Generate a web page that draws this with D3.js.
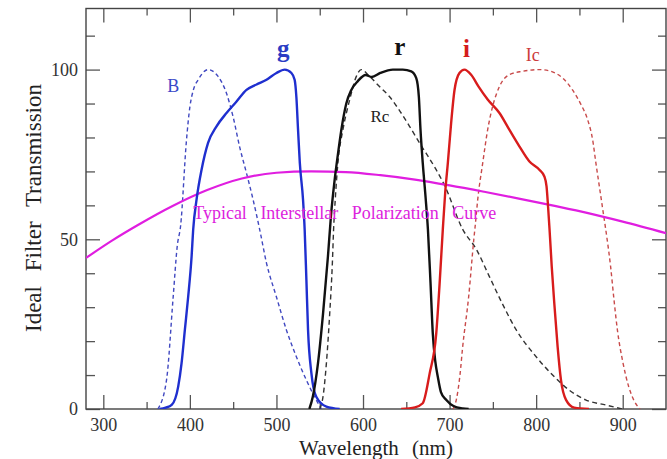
<!DOCTYPE html>
<html>
<head>
<meta charset="utf-8">
<script src="https://cdn.jsdelivr.net/npm/d3@7"></script>
<style>
  body { margin: 0; background: #fff; }
  svg { display: block; font-family: "Liberation Serif", "Times New Roman", serif; }
</style>
</head>
<body>
<svg id="chart" width="667" height="459"></svg>
<script>
// filter curves, [wavelength nm, transmission %]
var bFilter = [[363,0],[373,8.5],[380.7,33],[385.4,48],[389.3,54],[396,79],[400,89],[404,94],[409.6,97],[421,100],[432.6,98],[442.3,93],[450,86],[457.7,77],[465.4,69.5],[473,61.7],[480.7,52.8],[488.5,43],[500,33],[511.5,23.3],[523,15.4],[534.6,8.5],[544,3.6],[552,0]];
var gFilter = [[365,0],[372,0.4],[379,1.2],[386.5,6.6],[390.4,13.5],[394.2,23.3],[398,33],[402,45],[403.8,52.8],[407.7,61.7],[413.5,70.5],[421,78.4],[430.8,83.3],[442.3,87.2],[453.9,90.6],[465.4,94],[477,95.6],[488.5,97],[500,99],[509.6,100],[517.3,99],[521,97],[523,92],[525,82],[527,72.5],[530.7,61.7],[532.6,52.8],[534.6,38],[536.5,23.3],[540.4,10.5],[546,3.6],[557.7,0.7],[573,0]];
var rFilter = [[538,0],[542,3.6],[548,13.5],[553.8,28],[559.5,45],[563,57],[567,67],[571,75],[575,82.3],[580.7,90],[586.5,94],[594,96.6],[603,98.4],[610,97.8],[620,99],[634.5,100],[646,100],[655.7,99.5],[661.5,97.5],[664.5,92],[666.4,82.3],[669,72.5],[672.2,62.6],[675,52.8],[678,37],[680.6,22.3],[683.5,14],[686.4,9.5],[690,5],[696,2.7],[705,0.8],[715,0.2],[722,0]];
var rcFilter = [[550,0],[554,4],[557.7,13.5],[561.5,28],[564.6,43],[566,52.8],[568,62],[571,72.5],[576.8,82.3],[584.5,91],[592.3,98],[598,100],[607.6,98],[619,95],[630.7,92],[642,88],[653.7,83.3],[665.3,78.4],[684.5,70.5],[694,66],[715,53],[731,47],[746,39],[761,31],[777,23.3],[800,15.4],[819,10],[838,5.6],[857,2.7],[880,1.2],[900,0]];
var iFilter = [[644,0],[660,0.5],[669,1.7],[677,10.5],[684.6,22.3],[688.5,37],[692.2,53],[695,64],[698,72.5],[701.8,84.3],[705.7,94],[711.4,99],[717.2,100],[724.9,98.5],[733.5,95],[744,91.2],[757.6,87.2],[769,82.3],[780.6,77.4],[792,73],[803.7,70.5],[809.5,68.5],[812,65.6],[814,58.7],[815.5,52.8],[818,42],[821,31],[824.8,18.4],[828.7,8.5],[834.5,2.7],[844,0.4],[861,0]];
var icFilter = [[704,0],[708,3],[712,10],[715,18],[722,33],[728,50],[730,55],[732.5,61.7],[738.3,72.5],[744,82.3],[749.8,89.2],[757.6,95],[769,98.5],[784.4,99.5],[803.7,100],[817,99.5],[830.6,97.5],[842,94],[851.8,89.7],[859.4,85.3],[865.2,79.4],[869,72.5],[873,65.6],[878,57],[882,50],[886,42],[890,32],[894,23],[900,14],[907,6.5],[913,2.5],[920,0]];
var polCurve = [[280,44.5],[310,49.6],[340,54.2],[380,59.8],[420,64.5],[460,67.9],[500,69.6],[540,70.0],[580,69.8],[620,68.9],[660,67.6],[700,65.9],[740,64.0],[780,62.0],[820,59.9],[860,57.7],[900,55.2],[950,51.8]];

var xMajor = [300, 400, 500, 600, 700, 800, 900];
var xMinor = [350, 450, 550, 650, 750, 850];
var yMajor = [0, 50, 100];
var yMinor = [10, 20, 30, 40, 60, 70, 80, 90, 110];

var margin = {top: 8.5, right: 1, bottom: 50, left: 86};
var fullWidth = 667, fullHeight = 459;
var width = fullWidth - margin.left - margin.right;
var height = 409 - margin.top;

var svg = d3.select("#chart");

var x = d3.scaleLinear().domain([280, 950]).range([margin.left, margin.left + width]);
var y = d3.scaleLinear().domain([0, 118]).range([409, margin.top]);

svg.append("clipPath").attr("id", "plotclip")
  .append("rect")
  .attr("x", margin.left).attr("y", margin.top)
  .attr("width", width).attr("height", height);

// axes: ticks point inward on all four sides
function styleAxis(g) {
  g.attr("font-family", null);
  g.select(".domain").remove();
  g.selectAll(".tick line").attr("stroke", "#555").attr("stroke-width", 1.3);
  g.selectAll(".tick text").attr("fill", "#333").attr("font-size", 18);
}

svg.append("g").attr("transform", "translate(0,409)")
  .call(d3.axisBottom(x).tickValues(xMajor).tickSize(-14).tickPadding(9).tickFormat(d3.format("d")))
  .call(styleAxis);
svg.append("g").attr("transform", "translate(0,409)")
  .call(d3.axisBottom(x).tickValues(xMinor).tickSize(-7).tickFormat(""))
  .call(styleAxis);
svg.append("g").attr("transform", "translate(0," + margin.top + ")")
  .call(d3.axisTop(x).tickValues(xMajor).tickSize(-14).tickFormat(""))
  .call(styleAxis);
svg.append("g").attr("transform", "translate(0," + margin.top + ")")
  .call(d3.axisTop(x).tickValues(xMinor).tickSize(-7).tickFormat(""))
  .call(styleAxis);

svg.append("g").attr("transform", "translate(" + margin.left + ",0)")
  .call(d3.axisLeft(y).tickValues(yMajor).tickSize(-14).tickPadding(8))
  .call(styleAxis);
svg.append("g").attr("transform", "translate(" + margin.left + ",0)")
  .call(d3.axisLeft(y).tickValues(yMinor).tickSize(-9).tickFormat(""))
  .call(styleAxis);
svg.append("g").attr("transform", "translate(" + (margin.left + width) + ",0)")
  .call(d3.axisRight(y).tickValues(yMajor).tickSize(-14).tickFormat(""))
  .call(styleAxis);
svg.append("g").attr("transform", "translate(" + (margin.left + width) + ",0)")
  .call(d3.axisRight(y).tickValues(yMinor).tickSize(-8).tickFormat(""))
  .call(styleAxis);

// frame
svg.append("rect")
  .attr("x", margin.left).attr("y", margin.top)
  .attr("width", width).attr("height", height)
  .attr("fill", "none").attr("stroke", "#444").attr("stroke-width", 1.4);

var line = d3.line()
  .x(function(d) { return x(d[0]); })
  .y(function(d) { return y(d[1]); })
  .curve(d3.curveMonotoneX);

var plot = svg.append("g").attr("clip-path", "url(#plotclip)");

var series = [
  {data: bFilter,  color: "#4048c0", width: 1.4, dash: "4,3"},
  {data: rcFilter, color: "#333333", width: 1.4, dash: "5,3.5"},
  {data: icFilter, color: "#c84a4a", width: 1.4, dash: "4,3"},
  {data: polCurve, color: "#e01ee0", width: 2.2, dash: null},
  {data: gFilter,  color: "#1f2fcf", width: 2.4, dash: null},
  {data: rFilter,  color: "#111111", width: 2.4, dash: null},
  {data: iFilter,  color: "#d81c1c", width: 2.4, dash: null}
];

plot.selectAll("path.curve")
  .data(series)
  .enter().append("path")
    .attr("class", "curve")
    .attr("d", function(d) { return line(d.data); })
    .attr("fill", "none")
    .attr("stroke", function(d) { return d.color; })
    .attr("stroke-width", function(d) { return d.width; })
    .attr("stroke-dasharray", function(d) { return d.dash; })
    .attr("stroke-linejoin", "round");

// curve labels
var labels = [
  {t: "g",  w: 507.8, v: 103.7, c: "#2a3cc4", s: 25, b: true},
  {t: "r",  w: 642.6, v: 104.3, c: "#111",    s: 25, b: true},
  {t: "i",  w: 719.6, v: 103.7, c: "#d41c1c", s: 25, b: true},
  {t: "Ic", w: 796,   v: 102.4, c: "#cc3a3a", s: 18, b: false},
  {t: "B",  w: 380.7, v: 93.5,  c: "#3a48c8", s: 18, b: false},
  {t: "Rc", w: 619.5, v: 84.5,  c: "#222",    s: 17, b: false}
];
svg.selectAll("text.lab")
  .data(labels)
  .enter().append("text")
    .attr("class", "lab")
    .attr("x", function(d) { return x(d.w); })
    .attr("y", function(d) { return y(d.v); })
    .attr("text-anchor", "middle")
    .attr("fill", function(d) { return d.c; })
    .attr("font-size", function(d) { return d.s; })
    .attr("font-weight", function(d) { return d.b ? "bold" : "normal"; })
    .text(function(d) { return d.t; });

svg.append("text")
  .attr("x", x(403.8)).attr("y", y(56))
  .attr("fill", "#dd22dd")
  .attr("font-size", 18)
  .attr("word-spacing", 9)
  .text("Typical Interstellar Polarization Curve");

// axis titles
svg.append("text")
  .attr("x", margin.left + width / 2).attr("y", 455)
  .attr("text-anchor", "middle")
  .attr("fill", "#222")
  .attr("font-size", 21)
  .attr("word-spacing", 8)
  .text("Wavelength (nm)");

svg.append("text")
  .attr("transform", "translate(41,208) rotate(-90)")
  .attr("text-anchor", "middle")
  .attr("fill", "#222")
  .attr("font-size", 23)
  .attr("word-spacing", 9)
  .text("Ideal Filter Transmission");
</script>
</body>
</html>
